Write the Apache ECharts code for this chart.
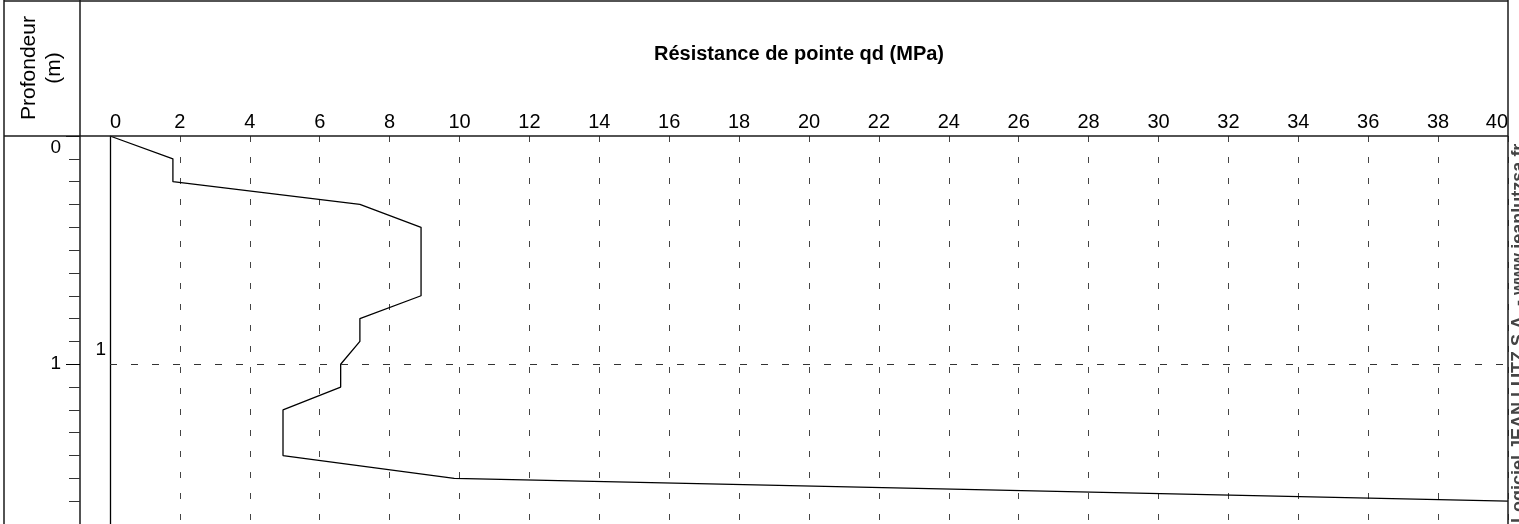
<!DOCTYPE html>
<html>
<head>
<meta charset="utf-8">
<script src="https://cdn.jsdelivr.net/npm/echarts@6/dist/echarts.min.js"></script>
<style>
  html, body { margin: 0; padding: 0; background: #fff; }
  #chart { width: 1519px; height: 524px; }
</style>
</head>
<body>
<div id="chart"></div>
<script>
// profondeur (m) et résistance de pointe qd (MPa)
var depths = [0, 0.1, 0.2, 0.3, 0.4, 0.7, 0.8, 0.9, 1.0, 1.1, 1.2, 1.4, 1.5, 1.6];
var qdValues = [0, 1.8, 1.8, 7.15, 8.9, 8.9, 7.15, 7.15, 6.6, 6.6, 4.95, 4.95, 9.85, 40];
var depthLabels = [0, 1];
var refDepth = 1;

var font = "Liberation Sans";
var frameColor = "#1a1a1a";

var points = depths.map(function (d, i) { return [qdValues[i], d]; });

var myChart = echarts.init(document.getElementById("chart"));

function frameLine(x1, y1, x2, y2) {
  return {
    type: "line",
    shape: { x1: x1, y1: y1, x2: x2, y2: y2 },
    style: { stroke: frameColor, lineWidth: 1.5 },
    z: 10
  };
}

var option = {
  animation: false,
  backgroundColor: "#fff",
  grid: { left: 110, right: 11, top: 136, bottom: 0 },
  xAxis: {
    type: "value",
    position: "top",
    min: 0,
    max: 40,
    interval: 2,
    axisLine: { show: false },
    axisTick: { show: false },
    axisLabel: {
      color: "#000",
      fontFamily: font,
      fontSize: 20,
      margin: 4,
      alignMinLabel: "left",
      alignMaxLabel: "right"
    },
    splitLine: {
      show: true,
      lineStyle: { color: "#444", width: 1, type: [6, 15] }
    }
  },
  yAxis: [
    {
      type: "value",
      inverse: true,
      min: 0,
      max: 1.7,
      interval: 0.1,
      offset: 30,
      axisLine: { show: true, onZero: false, lineStyle: { color: frameColor, width: 1.5 } },
      axisTick: { show: true, length: 11, lineStyle: { color: "#333", width: 1 } },
      axisLabel: {
        fontFamily: font,
        fontSize: 19,
        color: "#000",
        margin: 19,
        formatter: function (v) {
          var r = Math.round(v * 10) / 10;
          if (depthLabels.indexOf(r) < 0) return "";
          if (r === 0) return "{z|0}";
          return String(r);
        },
        rich: {
          z: { fontFamily: font, fontSize: 19, color: "#000", padding: [24, 0, 0, 0] }
        }
      },
      splitLine: { show: false }
    },
    {
      // graduations principales (mètres), un peu plus longues
      type: "value",
      inverse: true,
      position: "left",
      min: 0,
      max: 1.7,
      interval: 1,
      offset: 30,
      axisLine: { show: false, onZero: false },
      axisTick: { show: true, length: 14, lineStyle: { color: "#000", width: 1 } },
      axisLabel: { show: false },
      splitLine: { show: false }
    }
  ],
  series: [
    {
      type: "line",
      data: points,
      symbol: "none",
      lineStyle: { color: "#000", width: 1.3 },
      markLine: {
        silent: true,
        symbol: ["none", "none"],
        data: [
          {
            xAxis: 0,
            lineStyle: { color: "#000", width: 1.3, type: "solid" },
            label: { show: false }
          },
          {
            yAxis: refDepth,
            lineStyle: { color: "#333", width: 1, type: [7, 14] },
            label: {
              show: true,
              position: "start",
              distance: 4,
              offset: [0, -14],
              formatter: String(refDepth),
              fontFamily: font,
              fontSize: 19,
              color: "#000"
            }
          }
        ]
      }
    }
  ],
  graphic: [
    frameLine(4, 0, 4, 524),
    frameLine(4, 1, 1508, 1),
    frameLine(1508, 0, 1508, 524),
    frameLine(80, 0, 80, 136),
    frameLine(4, 136, 1508, 136),
    {
      type: "text",
      x: 42,
      y: 68,
      rotation: Math.PI / 2,
      style: {
        text: "Profondeur\n(m)",
        fontFamily: font,
        fontSize: 21,
        lineHeight: 25,
        fill: "#000",
        align: "center",
        verticalAlign: "middle"
      }
    },
    {
      type: "text",
      x: 799,
      y: 54,
      style: {
        text: "Résistance de pointe qd (MPa)",
        fontFamily: font,
        fontSize: 20,
        fontWeight: "bold",
        fill: "#000",
        align: "center",
        verticalAlign: "middle"
      }
    },
    {
      type: "text",
      x: 1510,
      y: 523,
      rotation: Math.PI / 2,
      style: {
        text: "Logiciel JEAN LUTZ S.A. - www.jeanlutzsa.fr",
        fontFamily: font,
        fontSize: 18,
        fontWeight: "bold",
        fill: "#444",
        align: "left",
        verticalAlign: "top"
      }
    }
  ]
};

myChart.setOption(option);
</script>
</body>
</html>
